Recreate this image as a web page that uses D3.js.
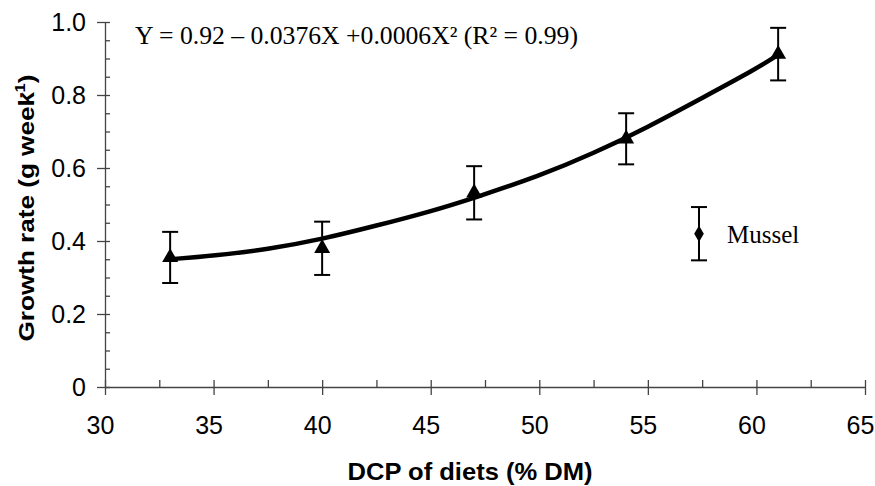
<!DOCTYPE html>
<html>
<head>
<meta charset="utf-8">
<script src="https://cdn.jsdelivr.net/npm/d3@7"></script>
<style>
  body { margin: 0; background: #fff; }
  svg { display: block; }
</style>
</head>
<body>
<script>
// measured points (mean +/- error)
const dcp = [33, 40, 47, 54, 61];
const growth = [0.355, 0.38, 0.532, 0.68, 0.912];
const errs = [0.07, 0.073, 0.073, 0.07, 0.072];

// fitted curve
const curveX = [33, 35, 37.5, 40, 42.5, 45, 47, 50, 52.5, 55, 57.5, 60, 61];
const curveY = [0.35, 0.36, 0.377, 0.405, 0.442, 0.481, 0.518, 0.578, 0.64, 0.712, 0.792, 0.872, 0.91];

const xTicks = [30, 35, 40, 45, 50, 55, 60, 65];
const yTicks = [0, 0.2, 0.4, 0.6, 0.8, 1.0];

// legend entry
const legendLabel = "Mussel";
const legendValue = 0.42;
const legendErr = 0.073;

const w = 875;
const h = 486;
const margin = {left: 105, right: 10, top: 22, bottom: 99};

const svg = d3.select("body")
  .append("svg")
  .attr("width", w)
  .attr("height", h);

const xScale = d3.scaleLinear()
  .domain([30, 65])
  .range([margin.left, w - margin.right]);

const yScale = d3.scaleLinear()
  .domain([0, 1])
  .range([h - margin.bottom, margin.top]);

const axisColor = "#444";

// y axis: major ticks crossing the axis, minor ticks inside
const yAxis = d3.axisLeft(yScale)
  .tickValues(yTicks)
  .tickSizeInner(8)
  .tickSizeOuter(0)
  .tickPadding(11)
  .tickFormat(d => d === 0 ? "0" : d.toFixed(1));

const gy = svg.append("g")
  .attr("transform", "translate(" + margin.left + ",0)")
  .call(yAxis);

svg.append("g")
  .attr("transform", "translate(" + margin.left + ",0)")
  .call(d3.axisRight(yScale).tickValues(d3.range(0, 1.0001, 0.05)).tickSize(5).tickSizeOuter(0).tickFormat(""))
  .select(".domain").remove();

// x axis
const xAxis = d3.axisBottom(xScale)
  .tickValues(xTicks)
  .tickSizeInner(8)
  .tickSizeOuter(0)
  .tickPadding(21);

const gx = svg.append("g")
  .attr("transform", "translate(0," + (h - margin.bottom) + ")")
  .call(xAxis);

svg.append("g")
  .attr("transform", "translate(0," + (h - margin.bottom) + ")")
  .call(d3.axisTop(xScale).tickValues(d3.range(30, 65.001, 2.5)).tickSize(7).tickSizeOuter(0).tickFormat(""))
  .select(".domain").remove();

svg.selectAll(".domain, .tick line")
  .attr("stroke", axisColor)
  .attr("stroke-width", 1.3);

gy.selectAll("text")
  .style("font-family", "Liberation Sans, Arial, sans-serif")
  .style("font-size", "25px")
  .attr("fill", "#000");

gx.selectAll("text")
  .style("font-family", "Liberation Sans, Arial, sans-serif")
  .style("font-size", "25px")
  .attr("dx", -5)
  .attr("fill", "#000");

// axis titles
svg.append("text")
  .attr("x", 470)
  .attr("y", 480)
  .attr("text-anchor", "middle")
  .attr("textLength", 245)
  .attr("lengthAdjust", "spacingAndGlyphs")
  .style("font-family", "Liberation Sans, Arial, sans-serif")
  .style("font-weight", "bold")
  .style("font-size", "24px")
  .text("DCP of diets (% DM)");

const yTitle = svg.append("text")
  .attr("transform", "translate(34,208) rotate(-90)")
  .attr("text-anchor", "middle")
  .attr("textLength", 267)
  .attr("lengthAdjust", "spacingAndGlyphs")
  .style("font-family", "Liberation Sans, Arial, sans-serif")
  .style("font-weight", "bold")
  .style("font-size", "22px");
yTitle.append("tspan").text("Growth rate (g week");
yTitle.append("tspan").attr("dy", -9).attr("dx", -5).style("font-size", "14px").text("-1");
yTitle.append("tspan").attr("dy", 9).text(")");

// equation
svg.append("text")
  .attr("x", 135)
  .attr("y", 44)
  .attr("textLength", 443)
  .attr("lengthAdjust", "spacingAndGlyphs")
  .style("font-family", "Liberation Serif, Times New Roman, serif")
  .style("font-size", "25px")
  .text("Y = 0.92 \u2013 0.0376X +0.0006X\u00b2 (R\u00b2 = 0.99)");

// fitted curve
const curveData = curveX.map((x, i) => [x, curveY[i]]);
const line = d3.line()
  .x(d => xScale(d[0]))
  .y(d => yScale(d[1]))
  .curve(d3.curveBasis);

svg.append("path")
  .datum(curveData)
  .attr("d", line)
  .attr("fill", "none")
  .attr("stroke", "#000")
  .attr("stroke-width", 4.5)
  .attr("stroke-linejoin", "round");

// error bars
const points = dcp.map((x, i) => ({x: x, y: growth[i], e: errs[i]}));
const capW = 8;

const bars = svg.append("g").attr("stroke", "#000").attr("stroke-width", 2);
bars.selectAll(".ebar")
  .data(points)
  .enter()
  .append("line")
  .attr("x1", d => xScale(d.x))
  .attr("x2", d => xScale(d.x))
  .attr("y1", d => yScale(d.y + d.e))
  .attr("y2", d => yScale(d.y - d.e));
bars.selectAll(".ctop")
  .data(points)
  .enter()
  .append("line")
  .attr("x1", d => xScale(d.x) - capW)
  .attr("x2", d => xScale(d.x) + capW)
  .attr("y1", d => yScale(d.y + d.e))
  .attr("y2", d => yScale(d.y + d.e));
bars.selectAll(".cbot")
  .data(points)
  .enter()
  .append("line")
  .attr("x1", d => xScale(d.x) - capW)
  .attr("x2", d => xScale(d.x) + capW)
  .attr("y1", d => yScale(d.y - d.e))
  .attr("y2", d => yScale(d.y - d.e));

// triangle markers
svg.selectAll(".marker")
  .data(points)
  .enter()
  .append("path")
  .attr("d", d3.symbol().type(d3.symbolTriangle).size(110))
  .attr("transform", d => "translate(" + xScale(d.x) + "," + yScale(d.y) + ")")
  .attr("fill", "#000");

// legend: diamond with error bar
const lx = 699;
const legend = svg.append("g");
legend.append("line")
  .attr("x1", lx).attr("x2", lx)
  .attr("y1", yScale(legendValue + legendErr))
  .attr("y2", yScale(legendValue - legendErr))
  .attr("stroke", "#000").attr("stroke-width", 2);
[legendValue + legendErr, legendValue - legendErr].forEach(v => {
  legend.append("line")
    .attr("x1", lx - capW).attr("x2", lx + capW)
    .attr("y1", yScale(v)).attr("y2", yScale(v))
    .attr("stroke", "#000").attr("stroke-width", 2);
});
legend.append("path")
  .attr("d", d3.symbol().type(d3.symbolDiamond).size(80))
  .attr("transform", "translate(" + lx + "," + yScale(legendValue) + ")")
  .attr("fill", "#000");
legend.append("text")
  .attr("x", 727)
  .attr("y", yScale(legendValue) + 9)
  .style("font-family", "Liberation Serif, Times New Roman, serif")
  .style("font-size", "25px")
  .text(legendLabel);
</script>
</body>
</html>
